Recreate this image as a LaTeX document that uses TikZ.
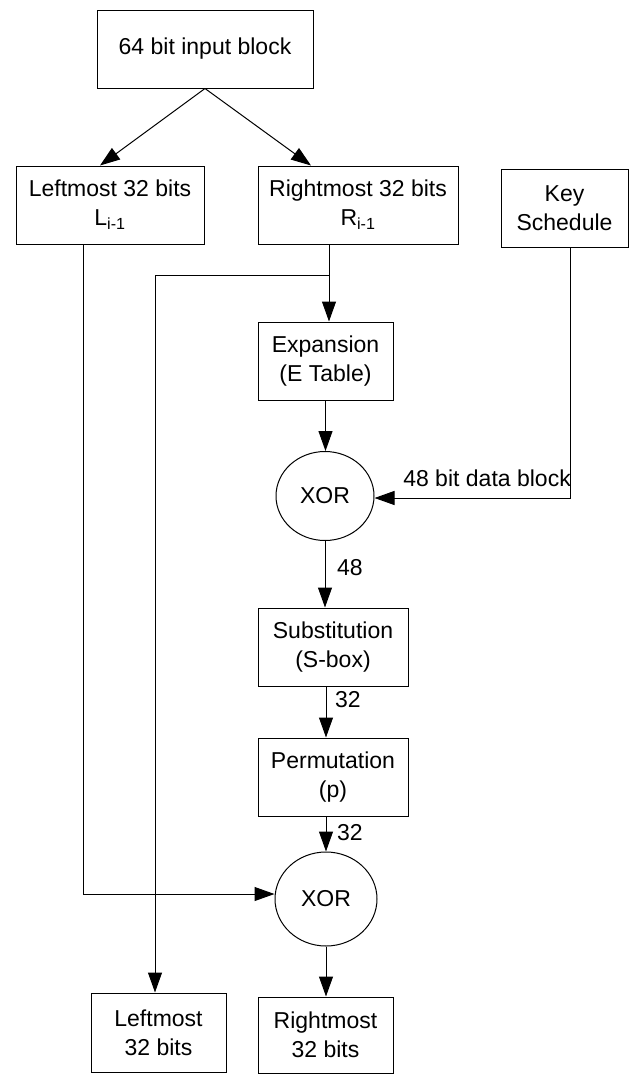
\documentclass[tikz,border=0pt]{standalone}
\usepackage{fontspec}
\setmainfont{Liberation Sans}
\usepackage{tikz}
\usetikzlibrary{positioning, arrows.meta, shapes.geometric, calc}

\begin{document}
\begin{tikzpicture}[
    x=1pt, y=-1pt,
    blockbox/.style={draw, line width=1pt, inner sep=0pt, align=center, font=\fontsize{23}{29}\selectfont},
    xorbox/.style={draw, line width=1pt, ellipse, inner sep=0pt, font=\fontsize{23}{29}\selectfont},
    arr/.style={-{Triangle[length=20pt, width=14pt]}, line width=1pt},
    bitlbl/.style={font=\fontsize{23}{29}\selectfont, inner sep=0pt}
]
\path[fill=white] (0,0) rectangle (630,1074);
% Blocks
\node[blockbox, minimum width=216pt, minimum height=78pt] (inblk) at (205,49) {64 bit input block};
\node[blockbox, minimum width=188pt, minimum height=78pt] (lft)   at (110,205) {Leftmost 32 bits\\L\textsubscript{i-1}};
\node[blockbox, minimum width=200pt, minimum height=78pt] (rgt)   at (358,205) {Rightmost 32 bits\\R\textsubscript{i-1}};
\node[blockbox, minimum width=127pt, minimum height=78pt] (key)   at (564.5,208) {Key\\Schedule};
\node[blockbox, minimum width=135pt, minimum height=78pt] (expn)  at (325.5,361) {Expansion\\(E Table)};
\node[xorbox,   minimum width=98pt,  minimum height=89pt] (xor1)  at (325,496) {XOR};
\node[blockbox, minimum width=150pt, minimum height=78pt] (subs)  at (333,647) {Substitution\\(S-box)};
\node[blockbox, minimum width=150pt, minimum height=78pt] (perm)  at (333,777) {Permutation\\(p)};
\node[xorbox,   minimum width=102pt, minimum height=94pt] (xor2)  at (326,899) {XOR};
\node[blockbox, minimum width=135pt, minimum height=79pt] (outl)  at (158.5,1032.5) {Leftmost\\32 bits};
\node[blockbox, minimum width=135pt, minimum height=76pt] (outr)  at (325.5,1035) {Rightmost\\32 bits};
% --- split of the input block ---
\draw[arr] (inblk.south) -- ([xshift=-10pt]lft.north);
\draw[arr] (inblk.south) -- ([xshift=-47pt]rgt.north);
% --- right half: expansion and copy to the left output ---
\coordinate (rdown) at ([xshift=-29pt]rgt.south);
\coordinate (rsplit) at (rdown |- 0,275);
\draw[arr] (rdown) -- (rdown |- expn.north);
\draw[arr] (rsplit) -| ([xshift=-3.5pt]outl.north);
% --- round key ---
\draw[arr] (expn.south) -- (expn.south |- xor1.north);
\draw[arr] ([xshift=6pt]key.south) |- ([yshift=-2pt]xor1.east);
\node[bitlbl, anchor=base east] (dlbl) at (571,486) {48 bit data block};
% --- f function ---
\draw[arr] (xor1.south) -- (xor1.south |- subs.north);
\node[bitlbl, anchor=west] (n48) at (337,568) {48};
\draw[arr] ([xshift=-7pt]subs.south) -- ([xshift=-7pt]perm.north);
\node[bitlbl, anchor=west] (n32a) at (335,700) {32};
\draw[arr] ([xshift=-7pt]perm.south) -- (xor2.north);
\node[bitlbl, anchor=west] (n32b) at (337,833) {32};
% --- left half into the second XOR ---
\draw[arr] ([xshift=-27pt]lft.south) |- ([yshift=5pt]xor2.west);
\draw[arr] (xor2.south) -- (xor2.south |- outr.north);
\end{tikzpicture}
\end{document}
